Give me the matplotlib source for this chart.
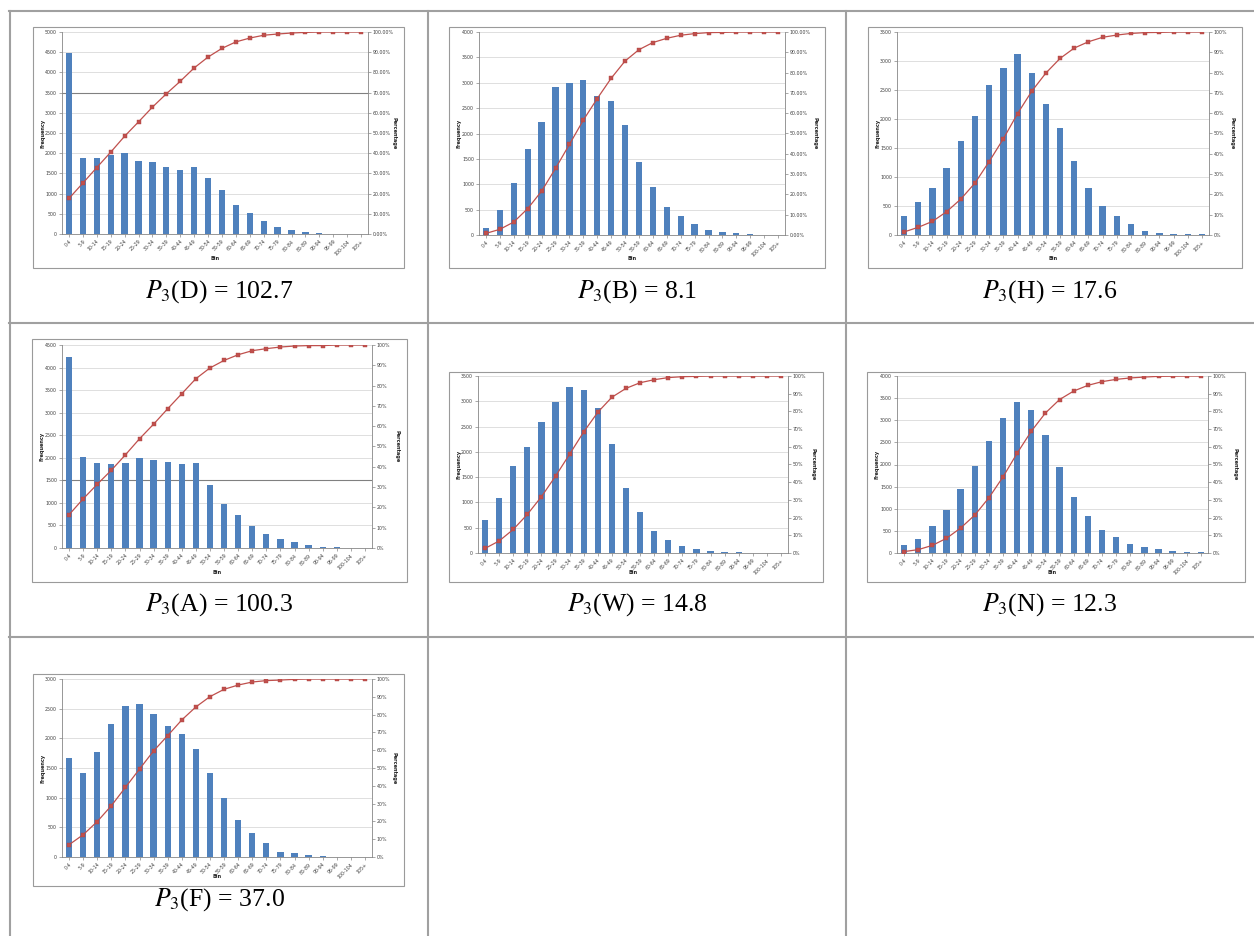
import numpy as np
import matplotlib.pyplot as plt
from matplotlib.patches import Rectangle
from matplotlib.lines import Line2D
from matplotlib.ticker import FuncFormatter, MultipleLocator

plt.rcParams['mathtext.fontset'] = 'stix'

# bins used for every chart
bins = ['0-4', '5-9', '10-14', '15-19', '20-24', '25-29', '30-34', '35-39',
        '40-44', '45-49', '50-54', '55-59', '60-64', '65-69', '70-74', '75-79',
        '80-84', '85-89', '90-94', '95-99', '100-104', '105+']

# frequencies (bars) and cumulative percentage (line)
freq_D = [4490, 1886, 1886, 1960, 2002, 1812, 1787, 1664, 1582, 1664, 1392,
          1087, 717, 527, 321, 173, 99, 58, 33, 10, 5, 3]
cum_D = [17.6, 25.2, 32.9, 40.5, 48.4, 55.5, 62.8, 69.4, 75.6, 82.2, 87.6,
         91.9, 95.1, 97.0, 98.4, 99.0, 99.5, 99.8, 100, 100, 100, 100]

freq_B = [144, 498, 1016, 1685, 2223, 2918, 3003, 3049, 2741, 2643, 2164,
          1430, 938, 544, 374, 210, 105, 59, 39, 13, 5, 2]
cum_B = [0.8, 2.8, 6.4, 13.0, 21.6, 32.8, 44.6, 56.6, 67.2, 77.2, 85.7,
         91.3, 94.8, 96.9, 98.4, 99.2, 99.7, 99.8, 100, 100, 100, 100]

freq_H = [327, 574, 815, 1159, 1629, 2048, 2582, 2886, 3115, 2800, 2266,
          1853, 1268, 803, 499, 333, 195, 75, 34, 17, 11, 17]
cum_H = [1.5, 3.8, 6.7, 11.5, 17.7, 25.6, 36.2, 47.4, 59.8, 70.8, 79.8,
         87.0, 92.1, 95.2, 97.4, 98.5, 99.3, 99.7, 99.8, 100, 100, 100]

freq_A = [4234, 2013, 1880, 1858, 1880, 1991, 1947, 1902, 1858, 1880, 1392,
          970, 725, 481, 303, 192, 126, 59, 22, 22, 3, 2]
cum_A = [16.4, 24.2, 31.4, 38.3, 45.9, 53.8, 61.0, 68.6, 76.0, 83.4, 88.7,
         92.4, 95.2, 97.2, 98.2, 99.0, 99.5, 99.7, 99.7, 100, 100, 100]

freq_W = [651, 1086, 1730, 2105, 2586, 2987, 3283, 3217, 2868, 2158, 1289,
          809, 441, 263, 138, 79, 33, 20, 13, 7, 3, 2]
cum_W = [2.6, 6.8, 13.3, 21.8, 31.8, 43.4, 55.8, 68.4, 79.5, 88.0, 93.0,
         96.2, 97.9, 99.1, 99.6, 99.8, 100, 100, 100, 100, 100, 100]

freq_N = [188, 323, 617, 977, 1451, 1962, 2526, 3045, 3421, 3226, 2669,
          1947, 1263, 827, 519, 368, 203, 143, 83, 45, 23, 23]
cum_N = [0.8, 1.9, 4.3, 8.3, 14.1, 21.4, 31.2, 43.0, 56.4, 68.8, 79.1,
         86.7, 91.5, 94.7, 96.8, 98.1, 98.9, 99.4, 99.8, 99.9, 100, 100]

freq_F = [1674, 1410, 1764, 2242, 2539, 2573, 2404, 2208, 2067, 1826, 1410,
          994, 629, 404, 230, 90, 67, 34, 11, 6, 6, 2]
cum_F = [6.9, 12.5, 19.9, 28.8, 39.1, 49.4, 59.6, 68.2, 77.0, 84.3, 90.1,
         94.2, 96.6, 98.3, 99.1, 99.4, 99.8, 100, 100, 100, 100, 100]

names = ['D', 'B', 'H', 'A', 'W', 'N', 'F']
p3_vals = ['102.7', '8.1', '17.6', '100.3', '14.8', '12.3', '37.0']
freqs = [freq_D, freq_B, freq_H, freq_A, freq_W, freq_N, freq_F]
cums = [cum_D, cum_B, cum_H, cum_A, cum_W, cum_N, cum_F]
ymax = [5000, 4000, 3500, 4500, 3500, 4000, 3000]
pct_dec = [2, 2, 0, 0, 0, 0, 0]
dark_line = [3500, None, None, 1500, None, None, None]

W, H = 1254, 936

# chart boxes and plot areas, in pixels (x0, y0, x1, y1)
boxes = [(33, 27, 404, 268), (449, 27, 825, 268), (868, 27, 1242, 268),
         (32, 339, 407, 582), (449, 372, 823, 582), (867, 372, 1245, 582),
         (33, 674, 404, 886)]
plots = [(62, 32, 368, 234), (479, 32, 785, 235), (897, 32, 1209, 235),
         (62, 345, 372, 548), (478, 376, 788, 553), (897, 376, 1208, 553),
         (62, 679, 372, 857)]
captions = [(219, 292), (637, 292), (1050, 292),
            (219, 605), (637, 605), (1050, 605), (219, 900)]


def frect(x0, y0, x1, y1):
    return [x0 / W, 1 - y1 / H, (x1 - x0) / W, (y1 - y0) / H]


fig = plt.figure(figsize=(W / 100, H / 100), dpi=100)

# table grid
tcol = '#A0A0A0'
for x in [10, 428, 846]:
    fig.add_artist(Line2D([x / W, x / W], [1 - 11 / H, 0], color=tcol, lw=1.5))
for y in [11, 323, 637]:
    fig.add_artist(Line2D([9 / W, 1], [1 - y / H, 1 - y / H], color=tcol, lw=1.5))

x = np.arange(len(bins))
for i in range(7):
    bx0, by0, bx1, by1 = boxes[i]
    fig.add_artist(Rectangle((bx0 / W, 1 - by1 / H), (bx1 - bx0) / W, (by1 - by0) / H,
                             transform=fig.transFigure, fill=False,
                             ec='#9A9A9A', lw=0.8))

    ax = fig.add_axes(frect(*plots[i]))
    ax.bar(x, freqs[i], width=0.45, color='#4F81BD', zorder=2)
    ax.set_xlim(-0.5, len(bins) - 0.5)
    ax.set_ylim(0, ymax[i])
    ax.yaxis.set_major_locator(MultipleLocator(500))
    ax.grid(axis='y', color='#D9D9D9', lw=0.6)
    ax.set_axisbelow(True)
    if dark_line[i] is not None:
        ax.axhline(dark_line[i], color='#808080', lw=0.8, zorder=1)
    ax.set_xticks(x)
    ax.set_xticklabels(bins, rotation=45, ha='right', rotation_mode='anchor')
    for s in ['top', 'right']:
        ax.spines[s].set_visible(False)
    for s in ['left', 'bottom']:
        ax.spines[s].set_color('#868686')
        ax.spines[s].set_linewidth(0.6)
    ax.tick_params(labelsize=3.4, length=2, width=0.5, color='#868686',
                   labelcolor='#404040', pad=1.5)

    ax2 = ax.twinx()
    ax2.plot(x, cums[i], color='#C0504D', lw=0.9, marker='s', ms=3.1,
             mfc='#C0504D', mec='#B04440', mew=0.3)
    ax2.set_ylim(0, 100)
    ax2.yaxis.set_major_locator(MultipleLocator(10))
    d = pct_dec[i]
    ax2.yaxis.set_major_formatter(FuncFormatter(lambda v, p, d=d: f'{v:.{d}f}%'))
    for s in ['top', 'left', 'bottom']:
        ax2.spines[s].set_visible(False)
    ax2.spines['right'].set_color('#868686')
    ax2.spines['right'].set_linewidth(0.6)
    ax2.tick_params(labelsize=3.4, length=2, width=0.5, color='#868686',
                    labelcolor='#404040', pad=1.5)

    px0, py0, px1, py1 = plots[i]
    ymid = 1 - (py0 + py1) / 2 / H
    fig.text((bx0 + 10) / W, ymid, 'Frequency', rotation=90, fontsize=3.6,
             weight='bold', ha='center', va='center', color='#222222')
    fig.text((bx1 - 10) / W, ymid, 'Percentage', rotation=270, fontsize=3.6,
             weight='bold', ha='center', va='center', color='#222222')
    fig.text((px0 + px1) / 2 / W, 1 - (by1 - 10) / H, 'Bin', fontsize=3.6,
             weight='bold', ha='center', va='center', color='#222222')

    cx, cy = captions[i]
    fig.text(cx / W, 1 - cy / H, rf'$P_3$({names[i]}) = {p3_vals[i]}',
             fontsize=18.5, family='Liberation Serif', ha='center', va='center')

fig.savefig('out.png', dpi=100)
